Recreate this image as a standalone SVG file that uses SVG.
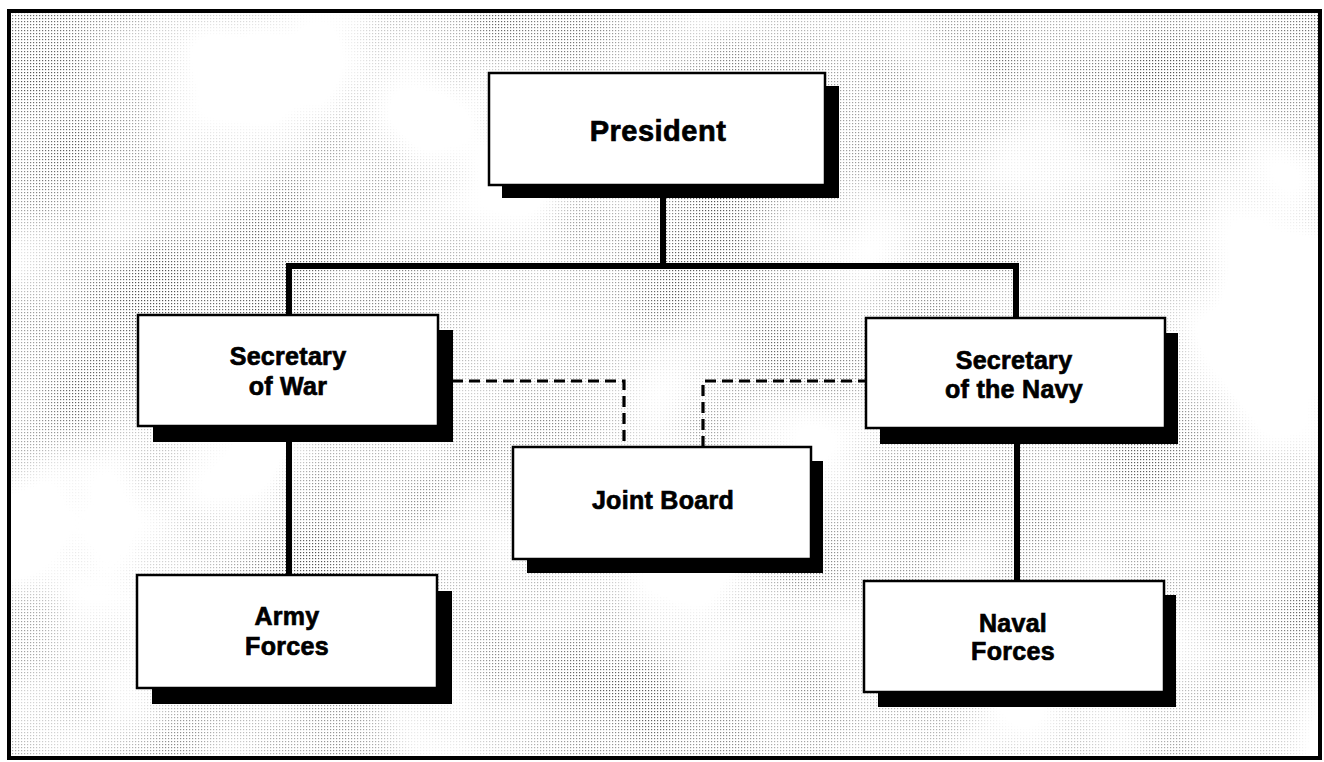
<svg xmlns="http://www.w3.org/2000/svg" width="1324" height="762" viewBox="0 0 1324 762">
<style>
.box{fill:#fff;stroke:#000;stroke-width:2.5}
.shadow{fill:#000}
.lbl{font-family:"Liberation Sans",Arial,Helvetica,sans-serif;font-weight:bold;font-size:25px;letter-spacing:0.3px;fill:#000;stroke:#000;stroke-width:0.7;text-anchor:middle}
.solid{fill:none;stroke:#000;stroke-width:6;stroke-linecap:square}
.dash{fill:none;stroke:#000;stroke-width:3.2;stroke-dasharray:11 6}
</style>
<defs>
<pattern id="dots" width="3" height="3" patternUnits="userSpaceOnUse">
<rect x="0" y="0" width="1.2" height="1.2" fill="#555"/>
</pattern>
<filter id="cloud" x="0" y="0" width="1324" height="762" filterUnits="userSpaceOnUse" color-interpolation-filters="sRGB">
<feTurbulence type="fractalNoise" baseFrequency="0.005" numOctaves="3" seed="11"/>
<feColorMatrix type="matrix" values="2.2 0 0 0 -0.7  2.2 0 0 0 -0.7  2.2 0 0 0 -0.7  0 0 0 0 1"/>
</filter>
<mask id="cloudMask" maskUnits="userSpaceOnUse" x="0" y="0" width="1324" height="762">
<rect x="0" y="0" width="1324" height="762" filter="url(#cloud)"/>
</mask>
</defs>

<g id="background">
<rect x="0" y="0" width="1324" height="762" fill="#fff"/>
<rect x="9" y="11" width="1310" height="746" fill="url(#dots)" mask="url(#cloudMask)"/>
<rect x="9" y="11" width="1311" height="747" fill="none" stroke="#000" stroke-width="4"/>
</g>

<g id="connectors">
<path class="solid" d="M663 186 V266 M289 266 H1016 M289 266 V316 M1016 266 V318 M289 427 V575 M1017 430 V581"/>
<path class="dash" d="M452 381 H624 V447"/>
<path class="dash" d="M703 447 V381 H866"/>
</g>

<g id="president">
<rect class="shadow" x="502" y="86" width="337" height="112"/>
<rect class="box" x="489" y="73" width="336" height="112"/>
<text class="lbl" x="658" y="141" style="font-size:29px;letter-spacing:0.5px">President</text>
</g>

<g id="secretary-war">
<rect class="shadow" x="153" y="330" width="300" height="112"/>
<rect class="box" x="138" y="315" width="300" height="111"/>
<text class="lbl" x="288" y="365">Secretary</text>
<text class="lbl" x="288" y="395">of War</text>
</g>

<g id="secretary-navy">
<rect class="shadow" x="880" y="333" width="298" height="111"/>
<rect class="box" x="866" y="318" width="299" height="110"/>
<text class="lbl" x="1014" y="369">Secretary</text>
<text class="lbl" x="1014" y="398">of the Navy</text>
</g>

<g id="joint-board">
<rect class="shadow" x="527" y="461" width="296" height="112"/>
<rect class="box" x="513" y="447" width="298" height="112"/>
<text class="lbl" x="663" y="509">Joint Board</text>
</g>

<g id="army-forces">
<rect class="shadow" x="152" y="591" width="300" height="113"/>
<rect class="box" x="137" y="575" width="300" height="113"/>
<text class="lbl" x="287" y="625">Army</text>
<text class="lbl" x="287" y="655">Forces</text>
</g>

<g id="naval-forces">
<rect class="shadow" x="878" y="595" width="298" height="112"/>
<rect class="box" x="864" y="581" width="300" height="111"/>
<text class="lbl" x="1013" y="632">Naval</text>
<text class="lbl" x="1013" y="660">Forces</text>
</g>
</svg>
